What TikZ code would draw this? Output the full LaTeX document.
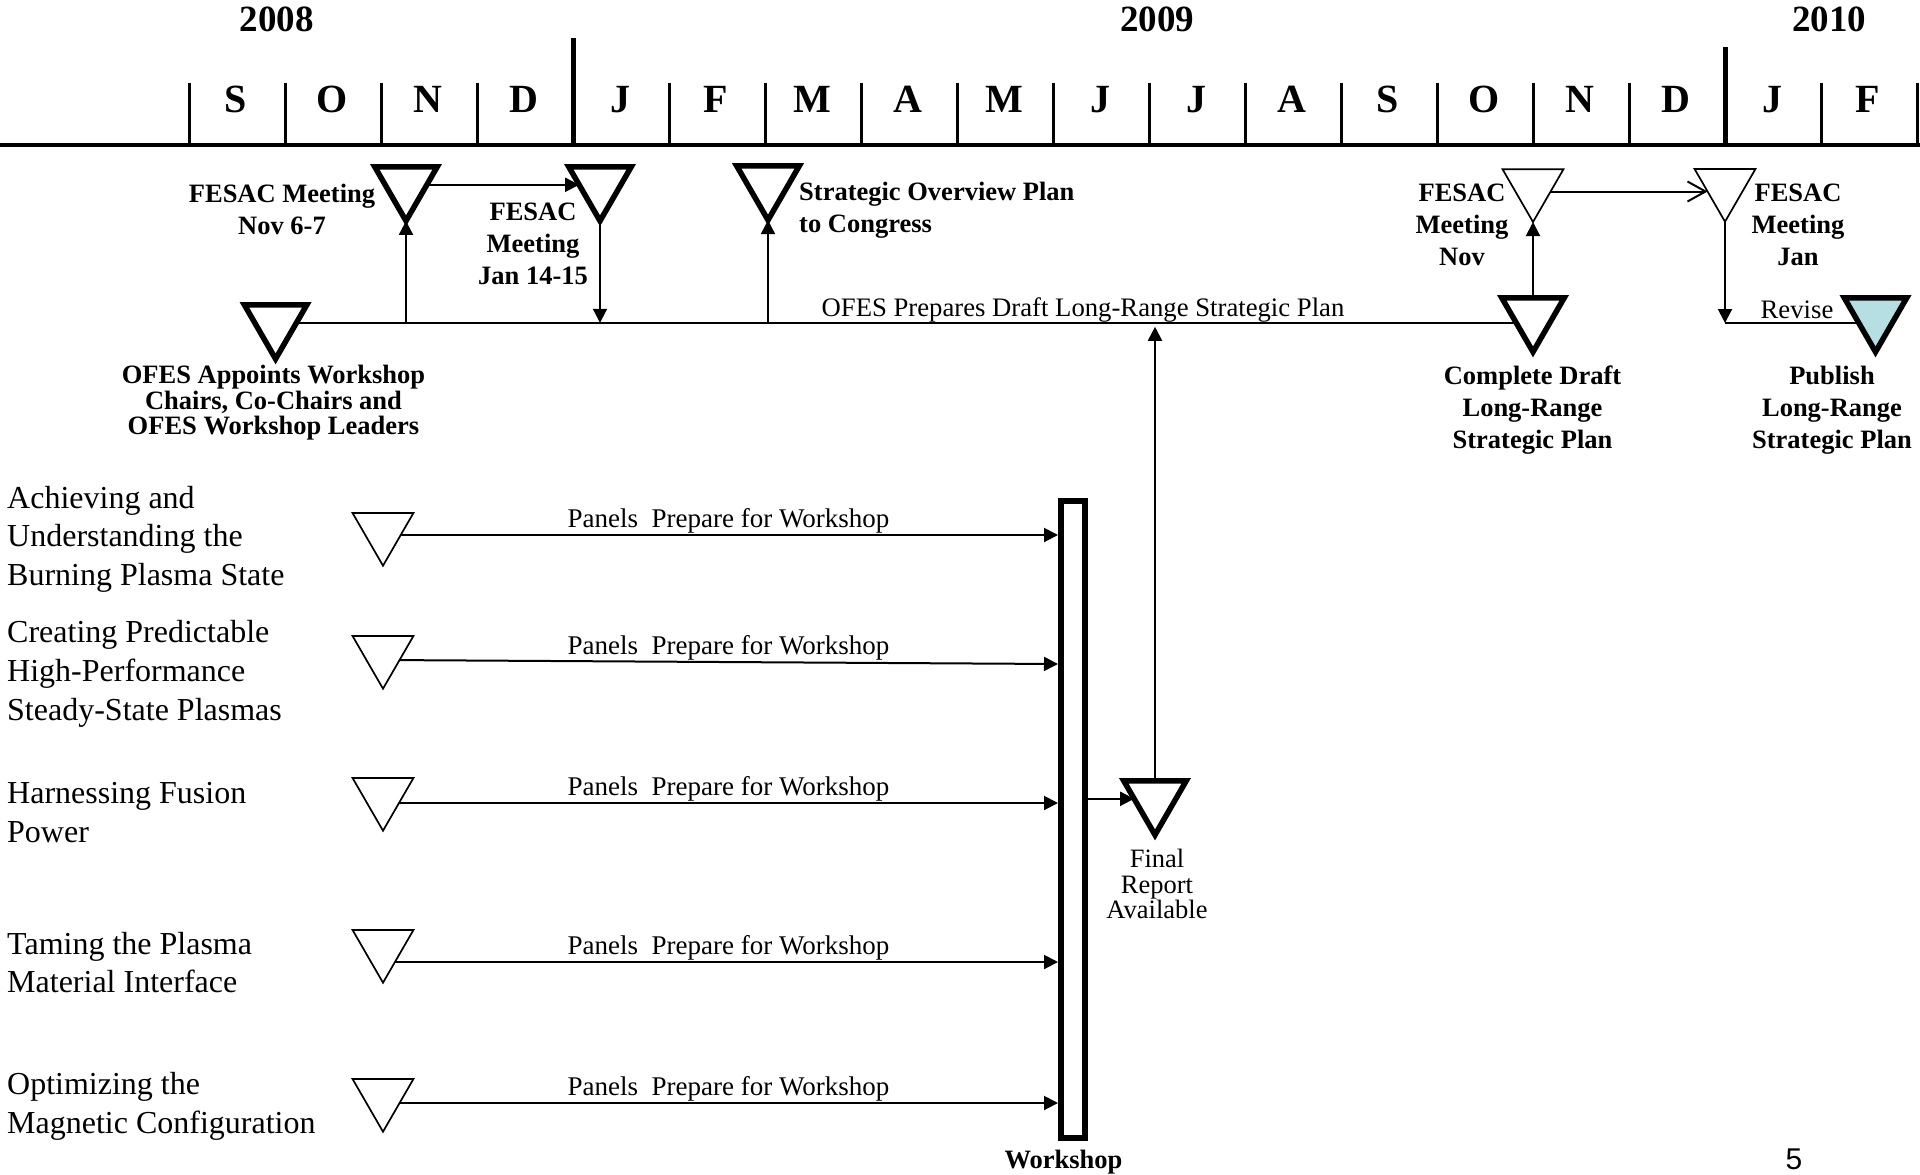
\documentclass[tikz,border=0pt]{standalone}
\usepackage{fontspec}
\setmainfont{Liberation Serif}
\newfontfamily\pagenumfont{Liberation Sans}
\usetikzlibrary{shapes.geometric,arrows.meta,calc,backgrounds}
\definecolor{pubfill}{RGB}{182,223,227}
\begin{document}
\begin{tikzpicture}[x=1pt,y=-1pt,
  tri/.style={regular polygon, regular polygon sides=3, shape border rotate=180,
    draw, fill=white, inner sep=0pt, outer sep=0pt},
  thicktri/.style={tri, line width=5.5pt, minimum size=72.2pt},
  thintri/.style={tri, line width=1.7pt, minimum size=70.4pt},
  conn/.style={line width=2pt},
  arr/.style={conn, -{Triangle[length=14pt,width=14pt]}},
  openarr/.style={conn, -{Straight Barb[length=18pt,width=20pt]}},
  boldlbl/.style={font=\bfseries\fontsize{26.5}{32}\selectfont, align=center, inner sep=0pt},
  reglbl/.style={font=\fontsize{26.7}{32}\selectfont, align=center, inner sep=0pt},
  leftlbl/.style={font=\fontsize{32}{38.6}\selectfont, align=left, anchor=west, inner sep=0pt},
  monthlbl/.style={font=\bfseries\fontsize{40}{48}\selectfont, anchor=base, inner sep=0pt},
  yearlbl/.style={font=\bfseries\fontsize{37}{44}\selectfont, anchor=base, inner sep=0pt},
  panellbl/.style={font=\fontsize{27}{32}\selectfont, inner sep=0.8pt, above, xshift=8pt}
]
\useasboundingbox (0,0) rectangle (1920,1175);

% ---------- timeline ----------
\draw[line width=4pt] (0,145) -- (1920,145);
\foreach \k in {0,1,2,3,5,6,7,8,9,10,11,12,13,14,15,17,18}
  \draw[line width=3pt] ({189+96*\k},83) -- ({189+96*\k},145);
\draw[line width=5pt] (573,38) -- (573,145);
\draw[line width=5pt] (1725,47) -- (1725,145);
\foreach \m [count=\i from 0] in {S,O,N,D,J,F,M,A,M,J,J,A,S,O,N,D,J,F}
  \node[monthlbl] (m\i) at ({236+96*\i},112.5) {\m};
\node[yearlbl] (y2008) at (276.5,31.7) {2008};
\node[yearlbl] (y2009) at (1157,31.7) {2009};
\node[yearlbl] (y2010) at (1829,31.7) {2010};

% ---------- milestones ----------
\node[thicktri] (Tofes) at (275.6,322.8) {};
\node[thicktri] (Tnov) at (406,184.8) {};
\node[thicktri] (Tjan) at (600,184.8) {};
\node[thicktri] (Tsoc) at (768,184) {};
\node[thicktri] (Tdraft) at (1533,315.8) {};
\node[thicktri, fill=pubfill] (Tpub) at (1875.5,315.8) {};
\node[thicktri] (Tfinal) at (1155,798.8) {};
\node[thintri] (Tfn) at (1533,186.8) {};
\node[thintri] (Tfj) at (1725,186.5) {};
\node[thintri] (P1) at (383,530.5) {};
\node[thintri] (P2) at (383,653.5) {};
\node[thintri] (P3) at (383,795.5) {};
\node[thintri] (P4) at (383,947.5) {};
\node[thintri] (P5) at (383,1096.5) {};
\node[draw, fill=white, line width=6pt, minimum width=24pt, minimum height=637pt, inner sep=0pt] (bar) at (1073,819.5) {};
\coordinate (rv) at (1725,323);

% ---------- labels ----------
\node[boldlbl] (lnov) at (282,209) {FESAC Meeting\\Nov 6-7};
\node[boldlbl] (ljan) at (533,244) {FESAC\\Meeting\\Jan 14-15};
\node[boldlbl, align=left, anchor=west] (lsoc) at (799,210) {Strategic Overview Plan\\to Congress};
\node[boldlbl, font=\bfseries\fontsize{26.5}{25.5}\selectfont] (lofes) at (273.5,403) {OFES Appoints Workshop\\Chairs, Co-Chairs and\\OFES Workshop Leaders};
\node[boldlbl] (ldraft) at (1532.5,410) {Complete Draft\\Long-Range\\Strategic Plan};
\node[boldlbl] (lpub) at (1832,410) {Publish\\Long-Range\\Strategic Plan};
\node[boldlbl] (lfn) at (1462,225) {FESAC\\Meeting\\Nov};
\node[boldlbl] (lfj) at (1798,225) {FESAC\\Meeting\\Jan};
\node[reglbl] (lrev) at (1797,310) {Revise};
\node[reglbl, anchor=base] (lprep) at (1083,316) {OFES Prepares Draft Long-Range Strategic Plan};
\node[reglbl, font=\fontsize{26.5}{25.5}\selectfont] (lfinal) at (1157,884) {Final\\Report\\Available};
\node[boldlbl, anchor=base] (lws) at (1063.5,1168.7) {Workshop};

\node[leftlbl] (a1) at (7,539.1) {Achieving and\\Understanding the\\Burning Plasma State};
\node[leftlbl] (a2) at (7,673.9) {Creating Predictable\\High-Performance\\Steady-State Plasmas};
\node[leftlbl] (a3) at (7,812.7) {Harnessing Fusion\\Power};
\node[leftlbl] (a4) at (7,962.4) {Taming the Plasma\\Material Interface};
\node[leftlbl] (a5) at (7,1106.1) {Optimizing the\\Magnetic Configuration};

\node[font=\pagenumfont\fontsize{30}{36}\selectfont, anchor=base, inner sep=0pt] (pgnum) at (1794,1169) {5};

% ---------- connectors ----------
\begin{scope}[on background layer]
  \fill[white] (0,0) rectangle (1920,1175);
  \draw[conn] (Tofes.center) -- (Tofes.center -| Tdraft.center);
  \draw[arr] (Tnov.270 |- Tofes.center) -- (Tnov.270);
  \draw[arr] (Tnov.center) -- (Tjan.180);
  \draw[arr] (Tjan.270) -- (Tjan.270 |- Tofes.center);
  \draw[arr] (Tsoc.270 |- Tofes.center) -- (Tsoc.270);
  \draw[arr] (Tfinal.90) -- ($(Tfinal.90 |- Tofes.center)+(0,4)$);
  \draw[arr] (Tfinal.180 -| bar.east) -- (Tfinal.180);
  \draw[arr] (Tdraft.90) -- (Tfn.270);
  \draw[openarr] (Tfn.center |- Tfj.196) -- (Tfj.196);
  \draw[arr] (Tfj.270) -- (rv);
  \draw[conn] (rv) -- (rv -| Tpub.center);
  \draw[arr] ($(P1.center)+(0,4.5)$) -- ($(P1.center -| bar.west)+(0,4.5)$)
     node[panellbl, midway] (t1) {Panels\ \ Prepare for Workshop};
  \draw[arr] ($(P2.center)+(0,6.5)$) -- ($(P2.center -| bar.west)+(0,10.5)$)
     node[panellbl, midway] (t2) {Panels\ \ Prepare for Workshop};
  \draw[arr] ($(P3.center)+(0,7.5)$) -- ($(P3.center -| bar.west)+(0,7.5)$)
     node[panellbl, midway] (t3) {Panels\ \ Prepare for Workshop};
  \draw[arr] ($(P4.center)+(0,14.5)$) -- ($(P4.center -| bar.west)+(0,14.5)$)
     node[panellbl, midway] (t4) {Panels\ \ Prepare for Workshop};
  \draw[arr] ($(P5.center)+(0,6.5)$) -- ($(P5.center -| bar.west)+(0,6.5)$)
     node[panellbl, midway] (t5) {Panels\ \ Prepare for Workshop};
\end{scope}
\end{tikzpicture}
\end{document}
